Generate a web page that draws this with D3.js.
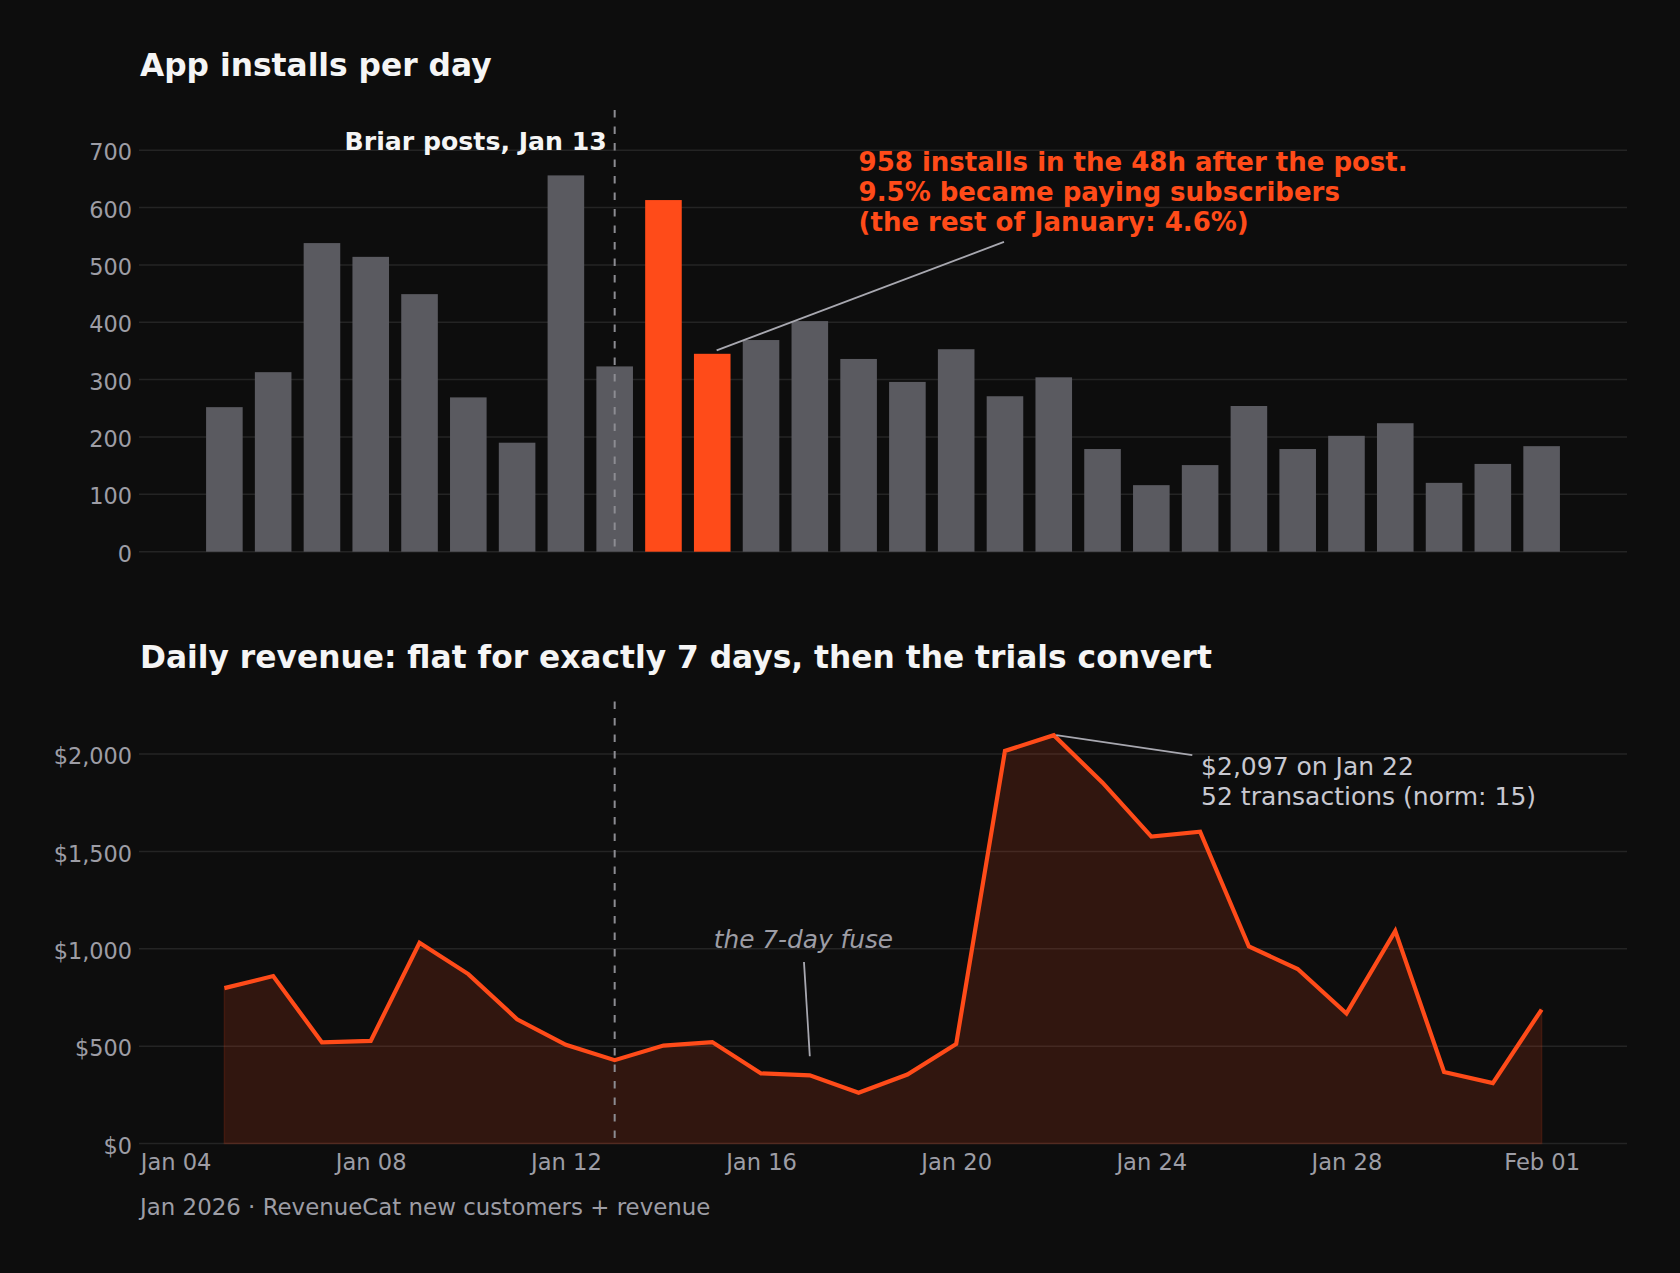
<!DOCTYPE html>
<html>
<head>
<meta charset="utf-8">
<script src="https://cdn.jsdelivr.net/npm/d3@7"></script>
<style>
  html, body { margin: 0; padding: 0; background: #0d0d0d; }
  svg { display: block; }
  text { font-family: "DejaVu Sans", sans-serif; }
</style>
</head>
<body>
<script>
// ---------- data ----------
const days = ["2026-01-05","2026-01-06","2026-01-07","2026-01-08","2026-01-09","2026-01-10","2026-01-11",
  "2026-01-12","2026-01-13","2026-01-14","2026-01-15","2026-01-16","2026-01-17","2026-01-18","2026-01-19",
  "2026-01-20","2026-01-21","2026-01-22","2026-01-23","2026-01-24","2026-01-25","2026-01-26","2026-01-27",
  "2026-01-28","2026-01-29","2026-01-30","2026-01-31","2026-02-01"];
const installs = [252, 313, 538, 514, 449, 269, 190, 656, 323, 613, 345, 369, 402, 336, 296, 353,
  271, 304, 179, 116, 151, 254, 179, 202, 224, 120, 153, 184];
const highlightDays = ["2026-01-14", "2026-01-15"];
const revenue = [798, 860, 519, 527, 1031, 870, 638, 507, 428, 503, 521, 360, 350, 261, 354, 511,
  2016, 2097, 1853, 1576, 1601, 1012, 896, 668, 1092, 367, 310, 688];
const installTicks = [0, 100, 200, 300, 400, 500, 600, 700];
const revenueTicks = [0, 500, 1000, 1500, 2000];
const dateTicks = ["2026-01-04","2026-01-08","2026-01-12","2026-01-16","2026-01-20","2026-01-24","2026-01-28","2026-02-01"];
const postDay = "2026-01-13";
const peakDay = "2026-01-22";

const titleTop = "App installs per day";
const titleBottom = "Daily revenue: flat for exactly 7 days, then the trials convert";
const postLabel = "Briar posts, Jan 13";
const installNote = ["958 installs in the 48h after the post.", "9.5% became paying subscribers", "(the rest of January: 4.6%)"];
const peakNote = ["$2,097 on Jan 22", "52 transactions (norm: 15)"];
const fuseNote = "the 7-day fuse";
const footer = "Jan 2026 · RevenueCat new customers + revenue";

// ---------- setup ----------
const W = 1680, H = 1273;
const BG = "#0d0d0d", ORANGE = "#ff4b19", BAR = "#5a5a60", GRID = "#242424", TICK = "#9d9da5";
const parse = d3.utcParse("%Y-%m-%d");
const DAY = 86400000;
const dates = days.map(parse);
const hiSet = new Set(highlightDays);

const svg = d3.select("body").append("svg").attr("width", W).attr("height", H);
svg.append("rect").attr("width", W).attr("height", H).attr("fill", BG);

const x = d3.scaleUtc()
  .domain([new Date(+dates[0] - 1.75 * DAY), new Date(+dates[dates.length - 1] + 1.75 * DAY)])
  .range([139, 1627]);
const xd = (d, off = 0) => x(new Date(+parse(d) + off * DAY));

// ---------- top chart ----------
const y1 = d3.scaleLinear().domain([0, 770]).range([551.7, 110]);
const g1 = svg.append("g");

g1.append("g").selectAll("line").data(installTicks).join("line")
  .attr("x1", 139).attr("x2", 1627)
  .attr("y1", d => y1(d)).attr("y2", d => y1(d))
  .attr("stroke", GRID).attr("stroke-width", 1.5);

const yAxis1 = d3.axisLeft(y1).tickValues(installTicks).tickSize(0).tickPadding(7).tickFormat(d3.format("d"));
g1.append("g").attr("transform", "translate(139,0)").call(yAxis1)
  .call(g => g.select(".domain").remove())
  .call(g => g.selectAll("text").attr("fill", TICK).attr("font-size", 22.4).attr("dy", "0.43em")
    .attr("font-family", "DejaVu Sans"));

const bw = x(new Date(+dates[0] + 0.75 * DAY)) - x(dates[0]);
g1.append("g").selectAll("rect").data(days.map((d, i) => ({d, v: installs[i]}))).join("rect")
  .attr("x", d => xd(d.d) - bw / 2)
  .attr("width", bw)
  .attr("y", d => y1(d.v))
  .attr("height", d => y1(0) - y1(d.v))
  .attr("fill", d => hiSet.has(d.d) ? ORANGE : BAR);

g1.append("line")
  .attr("x1", xd(postDay)).attr("x2", xd(postDay))
  .attr("y1", y1(770)).attr("y2", y1(0))
  .attr("stroke", "#8c8c92").attr("stroke-width", 2).attr("stroke-dasharray", "7.5,9");

g1.append("text").text(postLabel)
  .attr("x", xd(postDay, -0.16)).attr("y", y1(700))
  .attr("text-anchor", "end").attr("fill", "#f5f5f5")
  .attr("font-size", 25.2).attr("font-weight", "bold");

g1.append("line")
  .attr("x1", xd("2026-01-15", 0.09)).attr("y1", y1(351))
  .attr("x2", xd("2026-01-20", 0.98)).attr("y2", y1(540))
  .attr("stroke", "#a8a8b0").attr("stroke-width", 1.8);

const note1 = g1.append("text")
  .attr("x", xd("2026-01-18")).attr("y", y1(664))
  .attr("fill", ORANGE).attr("font-size", 26).attr("font-weight", "bold");
installNote.forEach((t, i) => note1.append("tspan").attr("x", xd("2026-01-18")).attr("dy", i ? 30 : 0).text(t));

g1.append("text").text(titleTop)
  .attr("x", 140).attr("y", 75.5).attr("fill", "#f5f5f5")
  .attr("font-size", 31.3).attr("font-weight", "bold");

// ---------- bottom chart ----------
const y2 = d3.scaleLinear().domain([0, 2270]).range([1143.5, 701.5]);
const g2 = svg.append("g");

g2.append("g").selectAll("line").data(revenueTicks).join("line")
  .attr("x1", 139).attr("x2", 1627)
  .attr("y1", d => y2(d)).attr("y2", d => y2(d))
  .attr("stroke", GRID).attr("stroke-width", 1.5);

const yAxis2 = d3.axisLeft(y2).tickValues(revenueTicks).tickSize(0).tickPadding(7)
  .tickFormat(d => "$" + d3.format(",")(d));
g2.append("g").attr("transform", "translate(139,0)").call(yAxis2)
  .call(g => g.select(".domain").remove())
  .call(g => g.selectAll("text").attr("fill", TICK).attr("font-size", 22.4).attr("dy", "0.43em")
    .attr("font-family", "DejaVu Sans"));

const xAxis = d3.axisBottom(x).tickValues(dateTicks.map(parse)).tickSize(0).tickPadding(10)
  .tickFormat(d3.utcFormat("%b %d"));
g2.append("g").attr("transform", `translate(0,${y2(0)})`).call(xAxis)
  .call(g => g.select(".domain").remove())
  .call(g => g.selectAll("text").attr("fill", TICK).attr("font-size", 22.6)
    .attr("font-family", "DejaVu Sans"));

const pts = dates.map((d, i) => ({d, v: revenue[i]}));
const area = d3.area().x(d => x(d.d)).y0(y2(0)).y1(d => y2(d.v));
g2.append("path").datum(pts).attr("d", area)
  .attr("fill", ORANGE).attr("fill-opacity", 0.15)
  .attr("stroke", ORANGE).attr("stroke-opacity", 0.15).attr("stroke-width", 1.5);

g2.append("line")
  .attr("x1", xd(postDay)).attr("x2", xd(postDay))
  .attr("y1", y2(2270)).attr("y2", y2(0))
  .attr("stroke", "#8c8c92").attr("stroke-width", 2).attr("stroke-dasharray", "7.5,9");

const line = d3.line().x(d => x(d.d)).y(d => y2(d.v));
g2.append("path").datum(pts).attr("d", line)
  .attr("fill", "none").attr("stroke", ORANGE).attr("stroke-width", 4.2).attr("stroke-linejoin", "miter");

// fuse annotation
g2.append("line")
  .attr("x1", xd("2026-01-17", -0.12)).attr("y1", y2(932))
  .attr("x2", xd("2026-01-17")).attr("y2", y2(448))
  .attr("stroke", "#a8a8b0").attr("stroke-width", 1.8);
g2.append("text").text(fuseNote)
  .attr("x", xd("2026-01-15", 0.03)).attr("y", y2(1004))
  .attr("fill", TICK).attr("font-size", 24.8).attr("font-style", "italic");

// peak annotation
const peakVal = revenue[days.indexOf(peakDay)];
g2.append("line")
  .attr("x1", xd(peakDay, 0.05)).attr("y1", y2(peakVal))
  .attr("x2", xd("2026-01-24", 0.84)).attr("y2", y2(1995))
  .attr("stroke", "#a8a8b0").attr("stroke-width", 1.8);
const note2 = g2.append("text")
  .attr("x", xd("2026-01-25", 0.02)).attr("y", y2(1892))
  .attr("fill", "#c8c8d0").attr("font-size", 25);
peakNote.forEach((t, i) => note2.append("tspan").attr("x", xd("2026-01-25", 0.02)).attr("dy", i ? 29.5 : 0).text(t));

g2.append("text").text(titleBottom)
  .attr("x", 140).attr("y", 667.8).attr("fill", "#f5f5f5")
  .attr("font-size", 31.3).attr("font-weight", "bold");

svg.append("text").text(footer)
  .attr("x", 140).attr("y", 1215).attr("fill", TICK).attr("font-size", 22.9);
</script>
</body>
</html>
